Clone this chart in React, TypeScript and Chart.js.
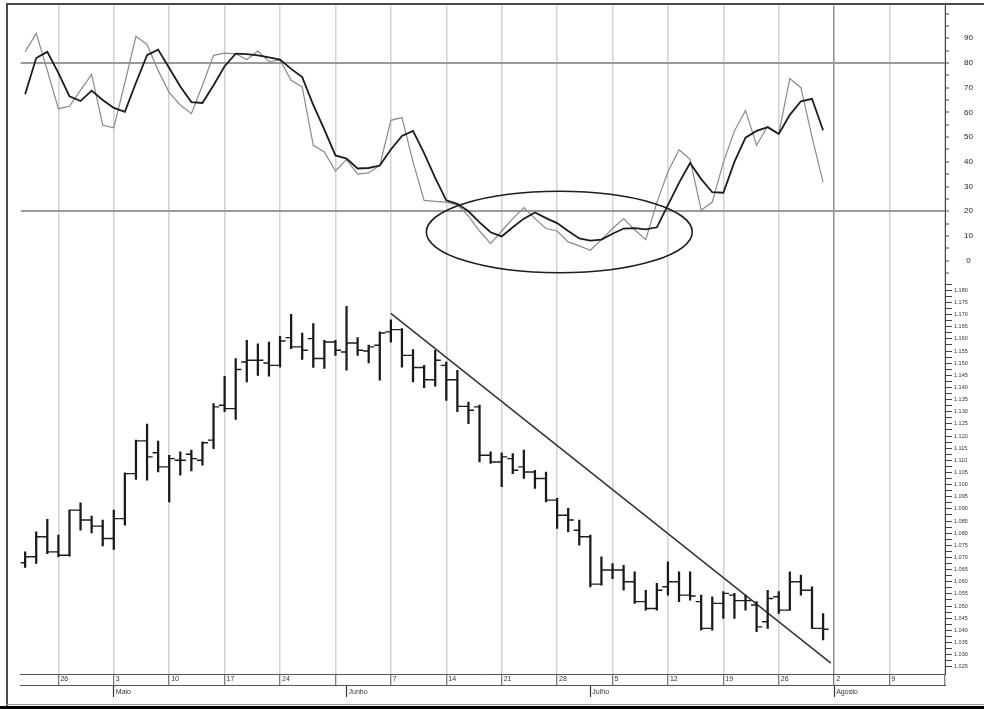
import React, { useEffect, useRef } from 'react';
import { Chart, registerables } from 'chart.js';

Chart.register(...registerables);

// trading-day index of the first bar (0 = Monday 26 April)
const FIRST_DAY = -3;

const opens = [
  1.0678, 1.0703, 1.0785, 1.0723, 1.0709, 1.0895, 1.0854, 1.0829, 1.0778, 1.0860,
  1.1045, 1.1180, 1.1131, 1.1073, 1.1100, 1.1125, 1.1100, 1.1183, 1.1327, 1.1313,
  1.1505, 1.1512, 1.1501, 1.1491, 1.1605, 1.1567, 1.1601, 1.1519, 1.1587, 1.1546,
  1.1583, 1.1550, 1.1574, 1.1629, 1.1638, 1.1532, 1.1482, 1.1432, 1.1491, 1.1432,
  1.1322, 1.1320, 1.1121, 1.1093, 1.1107, 1.1073, 1.1052, 1.1025, 1.0936, 1.0874,
  1.0812, 1.0785, 1.0590, 1.0648, 1.0648, 1.0600, 1.0518, 1.0490, 1.0579, 1.0600,
  1.0545, 1.0518, 1.0408, 1.0511, 1.0545, 1.0522, 1.0504, 1.0435, 1.0538, 1.0483,
  1.0600, 1.0565, 1.0408,
];
const highs = [
  1.0723, 1.0805, 1.0857, 1.0792, 1.0895, 1.0925, 1.0870, 1.0854, 1.0895, 1.1048,
  1.1183, 1.1249, 1.1179, 1.1121, 1.1135, 1.1142, 1.1176, 1.1334, 1.1446, 1.1519,
  1.1594, 1.1580, 1.1587, 1.1611, 1.1701, 1.1624, 1.1663, 1.1594, 1.1594, 1.1734,
  1.1605, 1.1574, 1.1629, 1.1679, 1.1642, 1.1556, 1.1491, 1.1553, 1.1505, 1.1471,
  1.1340, 1.1327, 1.1135, 1.1131, 1.1128, 1.1142, 1.1059, 1.1052, 1.0943, 1.0902,
  1.0854, 1.0792, 1.0703, 1.0675, 1.0668, 1.0641, 1.0565, 1.0593, 1.0682, 1.0641,
  1.0641, 1.0545, 1.0538, 1.0559, 1.0552, 1.0545, 1.0518, 1.0565, 1.0559, 1.0641,
  1.0627, 1.0579, 1.0469,
];
const lows = [
  1.0659, 1.0675, 1.0716, 1.0703, 1.0705, 1.0812, 1.0801, 1.0747, 1.0733, 1.0833,
  1.1021, 1.1018, 1.1052, 1.0929, 1.1039, 1.1056, 1.1080, 1.1148, 1.1300, 1.1268,
  1.1423, 1.1450, 1.1446, 1.1484, 1.1560, 1.1515, 1.1482, 1.1478, 1.1532, 1.1471,
  1.1532, 1.1501, 1.1430, 1.1587, 1.1484, 1.1423, 1.1399, 1.1405, 1.1347, 1.1300,
  1.1251, 1.1093, 1.1087, 1.0991, 1.1045, 1.1025, 1.0984, 1.0929, 1.0819, 1.0805,
  1.0751, 1.0579, 1.0586, 1.0613, 1.0565, 1.0511, 1.0483, 1.0483, 1.0545, 1.0518,
  1.0524, 1.0401, 1.0401, 1.0449, 1.0449, 1.0483, 1.0394, 1.0408, 1.0469, 1.0483,
  1.0545, 1.0408, 1.0360,
];
const closes = [
  1.0703, 1.0785, 1.0723, 1.0709, 1.0895, 1.0854, 1.0829, 1.0778, 1.0860, 1.1045,
  1.1180, 1.1114, 1.1073, 1.1107, 1.1100, 1.1107, 1.1172, 1.1320, 1.1313, 1.1474,
  1.1512, 1.1512, 1.1491, 1.1591, 1.1567, 1.1553, 1.1519, 1.1587, 1.1553, 1.1583,
  1.1553, 1.1567, 1.1624, 1.1638, 1.1532, 1.1482, 1.1432, 1.1512, 1.1432, 1.1322,
  1.1306, 1.1121, 1.1093, 1.1114, 1.1059, 1.1052, 1.1025, 1.0936, 1.0874, 1.0854,
  1.0785, 1.0590, 1.0648, 1.0648, 1.0600, 1.0518, 1.0490, 1.0565, 1.0600, 1.0545,
  1.0541, 1.0408, 1.0511, 1.0552, 1.0522, 1.0522, 1.0414, 1.0531, 1.0483, 1.0600,
  1.0565, 1.0408, 1.0404,
];

// Stochastic oscillator: %K (thin grey) and %D (black)
const stochK = [
  84.5, 92, 77, 61.5, 62.5, 69, 75.4, 54.8, 53.8, 72,
  90.8, 87.5, 77, 68, 63, 59.5, 71, 83.1, 84, 83.7,
  81.4, 84.8, 80.6, 81.1, 73, 70.3, 46.7, 44, 36.3, 40.9,
  35, 35.5, 38.6, 56.8, 57.9, 40, 24.4, 24, 23.7, 22.6,
  18, 12, 6.9, 12, 17, 21.5, 17, 13, 12, 7.6,
  6, 4.2, 8.5, 13, 17, 12.5, 8.5, 23.5, 36, 44.9,
  41, 20.4, 23.7, 39.8, 52.5, 60.8, 46.7, 54.4, 51.4, 73.7,
  70, 50, 31.8,
];
const stochD = [
  67.3, 82, 84.5, 76, 66.5, 64.6, 68.8, 65, 61.8, 60.2,
  72, 83.2, 85.4, 78, 70.5, 64.2, 63.8, 71, 78.7, 83.8,
  83.6, 83.1, 82.3, 81.4, 77.6, 74.3, 63, 53, 42.6, 41.3,
  37.3, 37.5, 38.5, 45, 50.5, 52.5, 43.5, 33.5, 24.4, 23,
  20, 15.5, 11.5, 9.8, 13.5, 17, 19.5, 17.2, 15.2, 12,
  9, 8.1, 8.5, 10.9, 13, 13.2, 12.7, 13.5, 22.5, 31.5,
  39.5, 33, 27.7, 27.5, 40, 49.8, 52.5, 54, 51.3, 59,
  64.5, 65.5, 52.8,
];

const weekDays = [0, 5, 10, 15, 20, 25, 30, 35, 40, 45, 50, 55, 60, 65, 70, 75, 80];
const weekLabels = ['26', '3', '10', '17', '24', '', '7', '14', '21', '28', '5', '12', '19', '26', '2', '9', ''];
const monthDays = [5, 26, 48, 70];
const monthLabels = ['Maio', 'Junho', 'Julho', 'Agosto'];

const stochTickLabels = ['90', '80', '70', '60', '50', '40', '30', '20', '10', '0'];
const stochLevels = [20, 80];
const priceTickLabels = [
  '1.180', '1.175', '1.170', '1.165', '1.160', '1.155', '1.150', '1.145',
  '1.140', '1.135', '1.130', '1.125', '1.120', '1.115', '1.110', '1.105',
  '1.100', '1.095', '1.090', '1.085', '1.080', '1.075', '1.070', '1.065',
  '1.060', '1.055', '1.050', '1.045', '1.040', '1.035', '1.030', '1.025',
];

const trendDays = [30, 69.7];
const trendPrices = [1.1705, 1.0265];

const ellipseCenterDay = 45.2;
const ellipseHalfDays = 12;
const ellipseCenterValue = 11.6;
const ellipseHalfValue = 16.5;

// tick value lists built from the label arrays
const stochTickValues: number[] = [];
for (let v = -5; v <= 100; v += 5) stochTickValues.push(v);
const priceTickValues: number[] = [];
const priceTickText: string[] = [];
priceTickLabels.slice().reverse().forEach((t) => {
  const p = Number(t);
  priceTickValues.push(p, Math.round((p + 0.0025) * 10000) / 10000);
  priceTickText.push(t, '');
});

const FONT = 'Liberation Sans';

const ellipsePlugin = {
  id: 'ellipseMark',
  afterDatasetsDraw(chart: any) {
    const xs = chart.scales.x;
    const ys = chart.scales.yStoch;
    const ctx = chart.ctx;
    const cx = xs.getPixelForValue(ellipseCenterDay);
    const cy = ys.getPixelForValue(ellipseCenterValue);
    const rx = Math.abs(xs.getPixelForValue(ellipseCenterDay + ellipseHalfDays) - cx);
    const ry = Math.abs(ys.getPixelForValue(ellipseCenterValue + ellipseHalfValue) - cy);
    ctx.save();
    ctx.beginPath();
    ctx.ellipse(cx, cy, rx, ry, 0, 0, Math.PI * 2);
    ctx.strokeStyle = '#1e1e1e';
    ctx.lineWidth = 1.6;
    ctx.stroke();
    ctx.restore();
  },
};

const noPad = (scale: any) => {
  scale.paddingTop = 0;
  scale.paddingBottom = 0;
  scale.paddingLeft = 0;
  scale.paddingRight = 0;
};

export default function App() {
  const ref = useRef<HTMLCanvasElement>(null);

  useEffect(() => {
    const days = opens.map((_, i) => FIRST_DAY + i);
    const barColor = '#1a1a1a';
    const chart = new Chart(ref.current as HTMLCanvasElement, {
      type: 'line',
      data: {
        datasets: [
          {
            type: 'line',
            label: '%D',
            data: days.map((d, i) => ({ x: d, y: stochD[i] })),
            xAxisID: 'x',
            yAxisID: 'yStoch',
            borderColor: '#1c1c1c',
            borderWidth: 1.8,
            pointRadius: 0,
            tension: 0,
          },
          {
            type: 'line',
            label: '%K',
            data: days.map((d, i) => ({ x: d, y: stochK[i] })),
            xAxisID: 'x',
            yAxisID: 'yStoch',
            borderColor: '#8a8a8a',
            borderWidth: 1.2,
            pointRadius: 0,
            tension: 0,
          },
          {
            type: 'bar',
            label: 'High-Low',
            data: days.map((d, i) => ({ x: d, y: [lows[i], highs[i]] })) as any,
            xAxisID: 'x',
            yAxisID: 'yPrice',
            backgroundColor: barColor,
            borderWidth: 0,
            barThickness: 1.6,
            grouped: false,
          } as any,
          {
            type: 'line',
            label: 'Open',
            data: days.map((d, i) => ({ x: d - 0.25, y: opens[i] })),
            xAxisID: 'x',
            yAxisID: 'yPrice',
            showLine: false,
            pointStyle: 'line',
            pointRadius: 2.8,
            pointBorderWidth: 1.4,
            pointBorderColor: barColor,
            pointBackgroundColor: barColor,
          },
          {
            type: 'line',
            label: 'Close',
            data: days.map((d, i) => ({ x: d + 0.25, y: closes[i] })),
            xAxisID: 'x',
            yAxisID: 'yPrice',
            showLine: false,
            pointStyle: 'line',
            pointRadius: 2.8,
            pointBorderWidth: 1.4,
            pointBorderColor: barColor,
            pointBackgroundColor: barColor,
          },
          {
            type: 'line',
            label: 'Trend',
            data: trendDays.map((d, i) => ({ x: d, y: trendPrices[i] })),
            xAxisID: 'x',
            yAxisID: 'yPrice',
            borderColor: '#333333',
            borderWidth: 1.5,
            pointRadius: 0,
            tension: 0,
          },
        ],
      },
      options: {
        responsive: false,
        animation: false,
        events: [],
        layout: { padding: { left: 20.7, top: 5, right: 2, bottom: 11 } },
        plugins: { legend: { display: false }, tooltip: { enabled: false } },
        scales: {
          x: {
            type: 'linear',
            position: 'bottom',
            min: -3.4,
            max: 80,
            offset: false,
            afterBuildTicks: (scale: any) => {
              scale.ticks = weekDays.map((v) => ({ value: v }));
            },
            afterFit: (scale: any) => {
              scale.height = 11;
              noPad(scale);
            },
            ticks: {
              autoSkip: false,
              maxRotation: 0,
              align: 'start',
              labelOffset: 2,
              padding: -10,
              color: '#333',
              font: { family: FONT, size: 7 },
              callback: (_v: any, i: number) => weekLabels[i],
            },
            grid: {
              offset: false,
              color: (ctx: any) => (ctx.tick && ctx.tick.value === 70 ? '#8c8c8c' : '#d2d2d2'),
              lineWidth: 1.5,
              tickColor: '#555',
              tickLength: 11,
              tickWidth: 1,
            },
            border: { display: true, color: '#555', width: 1 },
          } as any,
          xm: {
            type: 'linear',
            position: 'bottom',
            min: -3.4,
            max: 80,
            offset: false,
            afterBuildTicks: (scale: any) => {
              scale.ticks = monthDays.map((v) => ({ value: v }));
            },
            afterFit: (scale: any) => {
              scale.height = 13;
              noPad(scale);
            },
            ticks: {
              autoSkip: false,
              maxRotation: 0,
              align: 'start',
              labelOffset: 2,
              padding: -9,
              color: '#333',
              font: { family: FONT, size: 7 },
              callback: (_v: any, i: number) => monthLabels[i],
            },
            grid: {
              offset: false,
              drawOnChartArea: false,
              tickColor: '#333',
              tickLength: 12,
              tickWidth: 1.2,
            },
            border: { display: true, color: '#555', width: 1 },
          } as any,
          yStoch: {
            type: 'linear',
            position: 'right',
            stack: 'panels',
            stackWeight: 271,
            min: -6.3,
            max: 103.3,
            beginAtZero: false,
            afterBuildTicks: (scale: any) => {
              scale.ticks = stochTickValues.map((v) => ({ value: v }));
            },
            afterFit: (scale: any) => {
              scale.width = 37;
              noPad(scale);
            },
            ticks: {
              autoSkip: false,
              crossAlign: 'center',
              padding: 15,
              color: '#222',
              font: { family: FONT, size: 8 },
              callback: (v: any) => (stochTickLabels.includes(String(v)) ? String(v) : ''),
            },
            grid: {
              color: (ctx: any) =>
                ctx.tick && stochLevels.includes(ctx.tick.value) ? '#9a9a9a' : 'rgba(0,0,0,0)',
              lineWidth: 2,
              tickColor: '#444',
              tickLength: 4,
              tickWidth: 1,
            },
            border: { display: true, color: '#444', width: 1 },
          } as any,
          yPrice: {
            type: 'linear',
            position: 'right',
            stack: 'panels',
            stackWeight: 398,
            min: 1.022,
            max: 1.1858,
            beginAtZero: false,
            afterBuildTicks: (scale: any) => {
              scale.ticks = priceTickValues.map((v) => ({ value: v }));
            },
            afterFit: (scale: any) => {
              scale.width = 37;
              noPad(scale);
            },
            ticks: {
              autoSkip: false,
              padding: 2,
              color: '#333',
              font: { family: FONT, size: 5.5 },
              callback: (_v: any, i: number) => priceTickText[i],
            },
            grid: {
              drawOnChartArea: false,
              tickColor: '#444',
              tickLength: 7,
              tickWidth: 1,
            },
            border: { display: true, color: '#444', width: 1 },
          } as any,
        },
      },
      plugins: [ellipsePlugin],
    } as any);
    return () => chart.destroy();
  }, []);

  const line = (style: React.CSSProperties): React.CSSProperties => ({
    position: 'absolute',
    background: '#4a4a4a',
    pointerEvents: 'none',
    ...style,
  });

  return (
    <div style={{ position: 'absolute', left: 0, top: 0, width: 984, height: 709, background: '#fff', overflow: 'hidden' }}>
      <canvas ref={ref} width={984} height={709} style={{ position: 'absolute', left: 0, top: 0, width: 984, height: 709 }} />
      <div style={line({ left: 7, top: 3, width: 977, height: 2 })} />
      <div style={line({ left: 6, top: 3, width: 2, height: 703 })} />
      <div style={line({ left: 6, top: 704, width: 978, height: 1, background: '#999' })} />
      <div style={line({ left: 0, top: 706, width: 984, height: 3, background: '#000' })} />
    </div>
  );
}
